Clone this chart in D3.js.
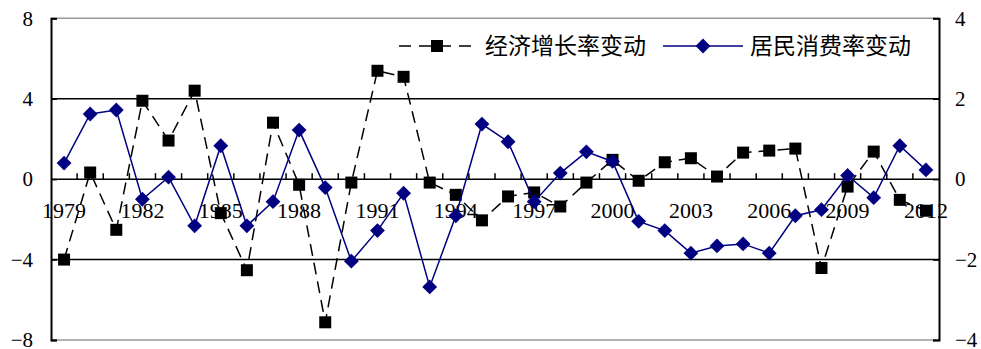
<!DOCTYPE html>
<html>
<head>
<meta charset="utf-8">
<script src="https://cdn.jsdelivr.net/npm/d3@7"></script>
<style>
  body { margin: 0; background: #fff; }
  svg text { font-family: "Liberation Serif", "Times New Roman", serif; }
  .cjk { font-family: "Noto Sans CJK SC", sans-serif; }
</style>
</head>
<body>
<div id="chart"></div>
<script>
const years = d3.range(1979, 2013).map(String)
const labelYears = ['1979','1982','1985','1988','1991','1994','1997','2000','2003','2006','2009','2012']
const growth = [-4.0, 0.33, -2.52, 3.9, 1.92, 4.4, -1.69, -4.53, 2.81, -0.28, -7.12,
  -0.17, 5.39, 5.09, -0.17, -0.78, -2.05, -0.86, -0.66, -1.36, -0.17, 0.96, -0.08,
  0.84, 1.04, 0.13, 1.32, 1.42, 1.52, -4.42, -0.37, 1.37, -1.03, -1.57]
const consumption = [0.40, 1.62, 1.72, -0.50, 0.05, -1.16, 0.83, -1.16, -0.56, 1.22, -0.21,
  -2.04, -1.28, -0.35, -2.68, -0.91, 1.37, 0.93, -0.56, 0.15, 0.68, 0.44, -1.05,
  -1.28, -1.84, -1.66, -1.61, -1.84, -0.91, -0.76, 0.09, -0.46, 0.83, 0.23]
const leftTicks = [-8, -4, 0, 4, 8]
const rightTicks = [-4, -2, 0, 2, 4]
const seriesNames = ['经济增长率变动', '居民消费率变动']

let dim = {'width': 981, 'height': 349}
let plot = {left: 51, right: 939, top: 18.3, bottom: 340}

let svg = d3.select('#chart').append('svg')
    .attr('width', dim.width)
    .attr('height', dim.height)

let x = d3.scaleBand().domain(years).range([plot.left, plot.right])
let yL = d3.scaleLinear().domain([-8, 8]).range([plot.bottom, plot.top])
let yR = d3.scaleLinear().domain([-4, 4]).range([plot.bottom, plot.top])
let cx = d => x(d) + x.bandwidth() / 2

// top / bottom border (grey)
svg.selectAll('line.border')
    .data([8, -8])
    .enter().append('line')
    .attr('x1', plot.left).attr('x2', plot.right)
    .attr('y1', d => yL(d)).attr('y2', d => yL(d))
    .attr('stroke', '#9a9a9a').attr('stroke-width', 1.5)

// gridlines
svg.selectAll('line.grid')
    .data([-4, 0, 4])
    .enter().append('line')
    .attr('x1', plot.left).attr('x2', plot.right)
    .attr('y1', d => yL(d)).attr('y2', d => yL(d))
    .attr('stroke', '#000').attr('stroke-width', 1.5)

// category ticks on the zero line
svg.selectAll('line.xtick')
    .data(years.slice(1))
    .enter().append('line')
    .attr('x1', d => x(d)).attr('x2', d => x(d))
    .attr('y1', yL(0)).attr('y2', yL(0) - 6)
    .attr('stroke', '#000').attr('stroke-width', 1.5)

// year labels
let axisX = d3.axisBottom(x).tickValues(labelYears).tickSize(0).tickPadding(23)
svg.append('g')
    .attr('transform', `translate(0,${yL(0)})`)
    .call(axisX)
    .call(g => g.select('.domain').remove())
    .selectAll('text')
    .attr('font-size', 22)
    .attr('fill', '#000')

let axisL = d3.axisLeft(yL).tickValues(leftTicks).tickSize(-6).tickPadding(18)
svg.append('g')
    .attr('transform', `translate(${plot.left},0)`)
    .call(axisL)
    .call(g => g.select('.domain').attr('stroke-width', 2))
    .call(g => g.selectAll('.tick line').attr('stroke-width', 1.5))
    .selectAll('text')
    .attr('font-size', 21)
    .attr('fill', '#000')

let axisR = d3.axisRight(yR).tickValues(rightTicks).tickSize(-6).tickPadding(16)
svg.append('g')
    .attr('transform', `translate(${plot.right},0)`)
    .call(axisR)
    .call(g => g.select('.domain').attr('stroke-width', 2))
    .call(g => g.selectAll('.tick line').attr('stroke-width', 1.5))
    .selectAll('text')
    .attr('font-size', 21)
    .attr('fill', '#000')

// series 1: economic growth (left axis)
let line1 = d3.line().x((d, i) => cx(years[i])).y(d => yL(d))
svg.append('path')
    .datum(growth)
    .attr('d', line1)
    .attr('fill', 'none')
    .attr('stroke', '#000')
    .attr('stroke-width', 1.5)
    .attr('stroke-dasharray', '12,7')

svg.selectAll('rect.g')
    .data(growth)
    .enter().append('rect')
    .attr('x', (d, i) => cx(years[i]) - 6)
    .attr('y', d => yL(d) - 6)
    .attr('width', 12).attr('height', 12)
    .attr('fill', '#000')

// series 2: consumption (right axis)
let line2 = d3.line().x((d, i) => cx(years[i])).y(d => yR(d))
svg.append('path')
    .datum(consumption)
    .attr('d', line2)
    .attr('fill', 'none')
    .attr('stroke', '#000080')
    .attr('stroke-width', 1.5)

let diamond = d3.symbol().type(d3.symbolDiamond2).size(140)
svg.selectAll('path.c')
    .data(consumption)
    .enter().append('path')
    .attr('d', diamond)
    .attr('transform', (d, i) => `translate(${cx(years[i])},${yR(d)})`)
    .attr('fill', '#000080')

// legend
let leg = svg.append('g')
let ly = 46
leg.append('line')
    .attr('x1', 399).attr('x2', 477).attr('y1', ly).attr('y2', ly)
    .attr('stroke', '#000').attr('stroke-width', 1.5)
    .attr('stroke-dasharray', '12,8')
leg.append('rect')
    .attr('x', 437 - 6).attr('y', ly - 6).attr('width', 12).attr('height', 12)
    .attr('fill', '#000')
leg.append('text')
    .attr('class', 'cjk')
    .attr('x', 485).attr('y', ly + 8)
    .attr('font-size', 23)
    .text(seriesNames[0])

leg.append('line')
    .attr('x1', 663).attr('x2', 743).attr('y1', ly).attr('y2', ly)
    .attr('stroke', '#000080').attr('stroke-width', 1.5)
leg.append('path')
    .attr('d', diamond)
    .attr('transform', `translate(703,${ly})`)
    .attr('fill', '#000080')
leg.append('text')
    .attr('class', 'cjk')
    .attr('x', 750).attr('y', ly + 8)
    .attr('font-size', 23)
    .text(seriesNames[1])
</script>
</body>
</html>
